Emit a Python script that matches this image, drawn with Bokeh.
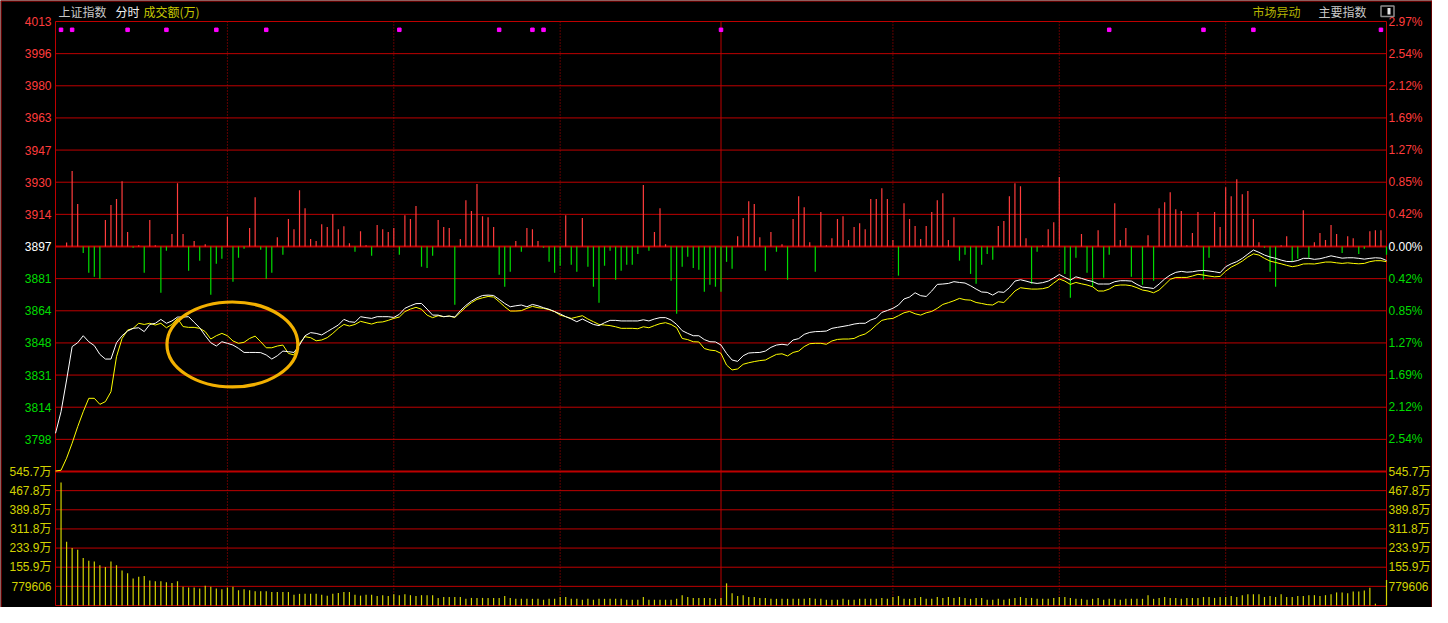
from bokeh.plotting import figure
from bokeh.models import Range1d, ColumnDataSource
from bokeh.core.properties import value, field
from bokeh.embed import file_html
from bokeh.resources import INLINE

# ---------------- data ----------------
PRE_CLOSE = 3897.2          # previous close (0.00% line)
STEP_PCT = 0.4243           # percent per grid step

price_labels = ["3798", "3814", "3831", "3848", "3864", "3881", "3897",
                "3914", "3930", "3947", "3963", "3980", "3996", "4013"]
pct_labels = ["2.54%", "2.12%", "1.69%", "1.27%", "0.85%", "0.42%", "0.00%",
              "0.42%", "0.85%", "1.27%", "1.69%", "2.12%", "2.54%", "2.97%"]
vol_labels = ["779606", "155.9万", "233.9万", "311.8万", "389.8万", "467.8万", "545.7万"]
VOL_STEP = 77.96            # 万 per volume grid step

# minute index 0..240 (9:30 .. 15:00)
price = [
    3801.1, 3812.2, 3828.5, 3845.7, 3847.7, 3851.3, 3848.2, 3846.2, 3841.7, 3839.3,
    3839.3, 3847.7, 3851.3, 3853.7, 3855.1, 3855.4, 3853.4, 3857.1, 3857.7, 3859.7,
    3857.7, 3858.9, 3860.9, 3860.9, 3861.1, 3858.2, 3855.4, 3851.3, 3847.7, 3846.0,
    3848.2, 3847.4, 3846.5, 3844.8, 3842.7, 3842.7, 3842.7, 3842.6, 3841.4, 3839.3,
    3841.0, 3843.4, 3843.1, 3842.7, 3846.5, 3851.3, 3852.9, 3852.5, 3851.7, 3853.4,
    3855.1, 3856.8, 3859.7, 3858.5, 3858.2, 3861.1, 3860.6, 3860.2, 3861.1, 3861.1,
    3861.1, 3860.7, 3862.3, 3865.4, 3866.7, 3867.8, 3867.9, 3865.0, 3861.9, 3861.9,
    3861.1, 3861.4, 3860.9, 3864.2, 3866.9, 3869.1, 3870.8, 3872.0, 3872.2, 3872.0,
    3870.0, 3867.9, 3866.2, 3866.7, 3867.1, 3866.2, 3867.4, 3866.7, 3865.7, 3864.9,
    3863.7, 3862.5, 3861.1, 3859.9, 3858.5, 3859.9, 3858.5, 3857.1, 3856.5, 3858.0,
    3859.2, 3859.2, 3858.9, 3858.9, 3858.9, 3858.9, 3859.5, 3858.9, 3859.9, 3860.6,
    3860.6, 3859.4, 3857.1, 3853.9, 3852.5, 3851.3, 3851.3, 3849.3, 3848.2, 3848.1,
    3846.5, 3842.2, 3838.8, 3838.1, 3841.0, 3842.4, 3842.6, 3842.7, 3843.4, 3845.3,
    3846.5, 3846.9, 3846.5, 3849.1, 3849.8, 3852.0, 3853.0, 3853.4, 3853.5, 3853.7,
    3855.1, 3855.6, 3856.1, 3856.6, 3857.3, 3857.7, 3857.7, 3859.4, 3860.4, 3863.3,
    3864.3, 3865.4, 3867.1, 3870.2, 3871.2, 3873.4, 3871.9, 3871.5, 3874.3, 3877.7,
    3877.9, 3878.2, 3879.1, 3878.7, 3878.4, 3877.0, 3875.3, 3873.8, 3873.6, 3872.2,
    3873.9, 3873.6, 3876.0, 3879.4, 3880.1, 3879.4, 3878.6, 3878.2, 3878.6, 3879.4,
    3881.0, 3882.8, 3881.3, 3879.9, 3881.6, 3880.8, 3879.9, 3879.2, 3877.9, 3877.9,
    3877.9, 3879.1, 3879.6, 3879.6, 3879.4, 3877.7, 3876.3, 3876.0, 3875.6, 3877.9,
    3880.5, 3882.5, 3883.9, 3884.4, 3884.0, 3884.2, 3884.7, 3884.9, 3884.6, 3884.2,
    3883.7, 3886.8, 3888.3, 3889.4, 3891.1, 3893.3, 3895.4, 3894.2, 3892.8, 3891.8,
    3891.1, 3890.2, 3889.5, 3889.4, 3890.0, 3891.1, 3891.1, 3890.6, 3890.9, 3891.6,
    3892.4, 3891.8, 3891.2, 3891.4, 3891.4, 3891.1, 3890.7, 3891.1, 3891.4, 3891.2,
    3890.0,
]

avg_line = [
    3781.7, 3782.1, 3788.3, 3796.0, 3804.5, 3812.2, 3819.1, 3819.1, 3816.0, 3817.4,
    3822.5, 3840.5, 3849.9, 3854.2, 3855.1, 3857.7, 3857.1, 3857.7, 3856.8, 3857.7,
    3855.4, 3857.1, 3860.2, 3856.0, 3855.6, 3855.6, 3855.1, 3853.4, 3849.6, 3851.3,
    3852.5, 3851.3, 3848.6, 3847.4, 3847.9, 3849.9, 3851.1, 3848.2, 3845.1, 3845.1,
    3846.0, 3846.5, 3842.2, 3841.4, 3847.4, 3850.8, 3850.3, 3848.7, 3849.1, 3850.3,
    3852.5, 3855.1, 3857.1, 3856.3, 3857.1, 3858.7, 3858.0, 3857.3, 3858.2, 3858.4,
    3859.2, 3860.2, 3860.9, 3863.7, 3865.0, 3865.9, 3864.9, 3861.9, 3860.6, 3861.6,
    3861.1, 3861.4, 3860.7, 3863.3, 3866.0, 3868.3, 3870.0, 3870.8, 3871.5, 3871.2,
    3868.8, 3866.2, 3864.0, 3864.0, 3864.2, 3865.4, 3866.4, 3865.7, 3865.4, 3864.7,
    3863.7, 3861.9, 3861.1, 3860.2, 3860.9, 3861.6, 3859.9, 3858.5, 3857.1, 3856.8,
    3856.5, 3855.9, 3855.1, 3855.1, 3855.1, 3854.9, 3855.9, 3855.4, 3856.5, 3857.5,
    3858.0, 3857.1, 3855.4, 3849.9, 3849.3, 3848.2, 3848.1, 3844.7, 3843.9, 3843.6,
    3842.2, 3836.2, 3833.7, 3834.2, 3836.6, 3837.4, 3838.0, 3838.5, 3838.8, 3840.3,
    3841.7, 3842.0, 3840.9, 3842.7, 3843.4, 3845.7, 3847.2, 3847.4, 3847.4, 3846.9,
    3848.6, 3849.4, 3849.6, 3849.6, 3849.9, 3851.3, 3852.2, 3854.2, 3856.8, 3859.2,
    3859.9, 3860.2, 3861.6, 3863.1, 3863.8, 3862.6, 3861.9, 3863.1, 3863.8, 3865.4,
    3867.4, 3868.3, 3869.3, 3870.5, 3869.8, 3869.6, 3868.4, 3867.9, 3867.3, 3867.1,
    3868.8, 3868.4, 3871.2, 3874.3, 3876.0, 3875.6, 3875.3, 3875.3, 3875.5, 3876.2,
    3878.4, 3880.5, 3879.4, 3877.7, 3878.7, 3878.0, 3877.4, 3876.5, 3874.3, 3874.3,
    3875.3, 3877.0, 3877.4, 3877.4, 3877.0, 3876.0, 3874.8, 3874.3, 3873.4, 3874.8,
    3877.5, 3880.3, 3881.3, 3881.3, 3881.3, 3882.0, 3882.9, 3882.5, 3882.0, 3881.6,
    3881.8, 3884.5, 3886.6, 3888.0, 3889.7, 3891.8, 3893.4, 3892.8, 3891.1, 3889.7,
    3889.0, 3888.3, 3887.5, 3886.8, 3887.3, 3888.2, 3888.3, 3888.2, 3888.7, 3889.2,
    3889.2, 3888.8, 3888.5, 3888.8, 3888.5, 3888.3, 3888.5, 3889.4, 3889.9, 3889.9,
    3889.4,
]

# minute index 1..240: red/green strength bars (index points around previous close)
strength = [
    0, 2.1, 38.8, 21.8, -3.3, -13.5, -15.6, -16.6, 13.6, 21.3,
    24.4, 33.6, 7.4, -0.7, 0.7, -13.5, 13.6, 0.7, -23.8, -2.2,
    6.4, 32.6, 6.4, -12.5, 2.8, -7.3, 1.2, -24.8, -8.9, -6.3,
    15.3, -18.1, -5.8, -1.2, 9.5, 25.4, -1.7, -16.6, -13.5, 4.8,
    -4.3, 14.1, 8.9, 29.0, 19.7, 3.8, 2.8, 11.5, 10.0, 16.7,
    8.9, 10.4, 1.7, -2.7, 7.9, 0.7, -4.8, 11.0, 8.9, 7.4,
    9.5, -4.3, 16.1, 14.1, 20.8, -10.4, -11.0, -4.8, 13.6, 10.0,
    9.5, -30.0, 3.8, 23.8, 18.2, 32.1, 15.6, 15.1, 10.0, -14.5,
    -20.7, -13.0, 2.8, -2.7, 9.5, 8.9, 2.8, -0.7, -7.9, -13.5,
    -9.9, 16.1, -9.4, -13.0, 14.6, -10.4, -20.7, -28.9, -9.9, -2.2,
    -17.1, -12.5, -9.4, -9.4, -3.8, 31.6, -2.2, 7.4, 19.7, 1.2,
    -17.6, -34.6, -10.4, -5.3, -11.0, -12.0, -23.3, -19.7, -20.7, -23.3,
    -7.9, -11.5, 5.3, 14.6, 23.3, 21.8, 4.8, -12.5, 7.4, -2.7,
    1.2, -17.1, 14.1, 25.9, 20.2, 2.2, -13.0, 17.7, 0.7, 4.3,
    14.1, 15.6, 3.3, 10.0, 12.0, 8.9, 24.4, 24.4, 30.0, 24.4,
    3.3, -15.0, 22.3, 14.1, 10.5, 3.8, 10.5, 17.7, 23.8, 27.4,
    3.3, 15.1, -7.3, -4.3, -14.1, -19.2, -9.4, -3.8, -6.8, 10.5,
    13.1, 25.9, 32.6, 31.0, 4.3, -19.2, -2.7, 0.7, 8.9, 12.5,
    35.7, -14.1, -26.4, -5.8, 6.4, -13.5, -20.7, 8.4, -16.1, -4.3,
    22.3, 3.3, 9.5, -15.6, 0, -19.7, 5.8, -17.6, 19.7, 22.8,
    27.9, 19.2, 18.2, 0.7, 6.9, 17.7, -17.1, -5.8, 17.7, 10.0,
    30.5, 25.9, 34.6, 26.9, 28.5, 14.1, 2.2, -0.7, -13.0, -20.7,
    0.7, 5.3, -7.9, -6.3, 18.7, -5.8, 2.2, 6.9, 3.3, 11.0,
    6.4, -3.3, 5.3, 4.3, -3.8, -1.2, 7.9, 8.4, 8.4, -4.3,
]

# minute index 1..240: turnover (万)
volume = [
    500.7, 259.5, 233.9, 226.6, 193.7, 182.7, 179.1, 164.4, 157.1, 179.1,
    164.4, 142.5, 131.6, 109.6, 116.9, 120.6, 102.3, 98.7, 98.7, 95.0,
    91.4, 98.7, 76.7, 73.1, 73.1, 69.4, 80.4, 76.7, 69.4, 65.8,
    73.1, 76.7, 62.1, 65.8, 62.1, 58.5, 58.5, 58.5, 54.8, 54.8,
    54.8, 54.8, 43.9, 47.5, 47.5, 47.5, 47.5, 43.9, 40.2, 47.5,
    51.2, 54.8, 54.8, 43.9, 40.2, 43.9, 43.9, 38.4, 42.1, 38.4,
    45.8, 42.1, 45.8, 42.1, 38.4, 42.1, 42.1, 42.1, 30.9, 34.6,
    34.6, 34.6, 34.6, 27.2, 30.9, 30.9, 30.9, 30.9, 30.9, 30.9,
    38.4, 30.9, 27.2, 27.2, 27.2, 27.2, 27.2, 23.5, 27.2, 27.2,
    34.6, 34.6, 27.2, 27.2, 23.5, 27.2, 23.5, 27.2, 27.2, 27.2,
    27.2, 27.2, 23.5, 23.5, 23.5, 34.6, 23.5, 23.5, 23.5, 23.5,
    23.5, 27.2, 42.1, 34.6, 30.9, 30.9, 30.9, 30.9, 27.2, 30.9,
    90.3, 49.5, 38.4, 42.1, 34.6, 34.6, 30.9, 30.9, 27.2, 27.2,
    27.2, 27.2, 27.2, 27.2, 27.2, 30.9, 27.2, 27.2, 23.5, 23.5,
    23.5, 27.2, 23.5, 23.5, 27.2, 27.2, 27.2, 27.2, 30.9, 27.2,
    34.6, 38.4, 27.2, 27.2, 30.9, 34.6, 27.2, 27.2, 34.6, 30.9,
    34.6, 30.9, 34.6, 30.9, 27.2, 30.9, 30.9, 23.5, 23.5, 27.2,
    23.5, 27.2, 30.9, 34.6, 30.9, 30.9, 27.2, 27.2, 27.2, 30.9,
    34.6, 34.6, 30.9, 27.2, 27.2, 23.5, 27.2, 30.9, 23.5, 27.2,
    27.2, 23.5, 27.2, 27.2, 27.2, 27.2, 42.1, 27.2, 30.9, 34.6,
    30.9, 30.9, 27.2, 30.9, 30.9, 30.9, 34.6, 34.6, 30.9, 34.6,
    34.6, 38.4, 34.6, 42.1, 45.8, 45.8, 45.8, 34.6, 38.4, 34.6,
    45.8, 34.6, 34.6, 38.4, 38.4, 42.1, 42.1, 38.4, 42.1, 45.8,
    53.2, 53.2, 49.5, 56.9, 56.9, 60.6, 71.8, 7.4, 0, 103.9,
]

# minutes with "market anomaly" markers
event_minutes = [1, 3, 13, 20, 29, 38, 62, 80, 86, 88, 120, 190, 207, 216, 239]
# half-hour separators (minute index); 120 = midday break
half_hour_lines = [31, 61, 91, 151, 181, 211]
midday_line = 120

# highlighted region (minute index / index level / extents)
CIRCLE_X, CIRCLE_Y, CIRCLE_W, CIRCLE_H = 31.9, 3846.8, 23.6, 43.7

# ---------------- layout / style ----------------
W, H = 1432, 607
FL, FR = 55, 1386          # plot frame left / right (px)
FT, PB, FB = 21, 471, 605  # frame top, price-pane bottom, frame bottom (px)

STEP = PRE_CLOSE * STEP_PCT / 100.0
PRICE_TOP = PRE_CLOSE + 7 * STEP
PRICE_BOT = PRE_CLOSE - 7 * STEP
VOL_TOP = 7 * VOL_STEP
PXM = (FR - FL) / 240.0
PX_PER_PT = (PB - FT) / (PRICE_TOP - PRICE_BOT)
VPX = (FB - PB) / VOL_TOP


def px2x(px):
    return (px - FL) / PXM


def py2y(py):
    return PRICE_TOP + (FT - py) / PX_PER_PT


FRAME_BOT = py2y(FB)

RED = "#FF3C3C"
GREEN = "#00DC00"
GRID = "#BE0000"
VOL_YEL = "#D2D200"
FONT = "Liberation Sans, Noto Sans CJK SC"

p = figure(width=W, height=H, output_backend="svg", toolbar_location=None,
           x_axis_location=None, y_axis_location=None,
           x_range=Range1d(px2x(0), px2x(W)), y_range=Range1d(py2y(H), py2y(0)),
           min_border=0, min_border_left=0, min_border_right=0,
           min_border_top=0, min_border_bottom=0,
           background_fill_color="black", border_fill_color="black",
           outline_line_color=None)
p.xgrid.visible = False
p.ygrid.visible = False
p.extra_y_ranges = {"vol": Range1d(-(H - FB) / VPX, FB / VPX)}

# ---- grid lines ----
levels = [PRE_CLOSE + k * STEP for k in range(-6, 8)]
lw = [2 if k == 0 else 1 for k in range(-6, 8)]
p.segment(x0=[0] * 14, x1=[240] * 14, y0=levels, y1=levels,
          line_color=GRID, line_width=lw)
vol_levels = [m * VOL_STEP for m in range(1, 8)]
p.segment(x0=[0] * 7, x1=[240] * 7, y0=vol_levels, y1=vol_levels,
          line_color=GRID, line_width=[1, 1, 1, 1, 1, 1, 2], y_range_name="vol")
# frame edges
p.segment(x0=[0, 240, 0], x1=[0, 240, 240], y0=[PRICE_TOP, PRICE_TOP, FRAME_BOT],
          y1=[FRAME_BOT, FRAME_BOT, FRAME_BOT], line_color=GRID, line_width=1)
# canvas border
p.segment(x0=[px2x(0.5), px2x(0), px2x(W - 0.5)], x1=[px2x(0.5), px2x(W), px2x(W - 0.5)],
          y0=[py2y(0), py2y(0.5), py2y(0)], y1=[py2y(H), py2y(0.5), py2y(H)],
          line_color=GRID, line_width=1)
# half-hour separators
n = len(half_hour_lines)
p.segment(x0=half_hour_lines, x1=half_hour_lines, y0=[PRICE_TOP] * n, y1=[FRAME_BOT] * n,
          line_color=GRID, line_width=1, line_dash="1 2")
p.segment(x0=[midday_line], x1=[midday_line], y0=[PRICE_TOP], y1=[FRAME_BOT],
          line_color=GRID, line_width=1)

# ---- strength bars ----
mins = list(range(1, 241))
sb = ColumnDataSource(dict(
    x=mins, y0=[PRE_CLOSE] * 240, y1=[PRE_CLOSE + v for v in strength],
    c=[RED if v >= 0 else GREEN for v in strength]))
p.segment(x0="x", y0="y0", x1="x", y1="y1", source=sb, line_color="c", line_width=1.2)

# ---- volume bars ----
vs = ColumnDataSource(dict(x=mins, v=volume, z=[0] * 240))
p.segment(x0="x", y0="z", x1="x", y1="v", source=vs, line_color=VOL_YEL,
          line_width=1.2, y_range_name="vol")

# ---- lines ----
t_all = list(range(0, 241))
p.line(t_all, avg_line, line_color="#FFFF00", line_width=1)
p.line(t_all, price, line_color="#FFFFFF", line_width=1)

# ---- event markers ----
MARK_Y = py2y(29.3)
p.scatter(event_minutes, [MARK_Y] * len(event_minutes), marker="square", size=3.5,
          fill_color="#FF00FF", line_color="#FF00FF")

# ---- highlight circle ----
p.ellipse(x=[CIRCLE_X], y=[CIRCLE_Y], width=CIRCLE_W, height=CIRCLE_H,
          fill_alpha=0, line_color="#F2B000", line_width=3.2)

# ---- axis labels ----
col = [GREEN] * 6 + ["#FFFFFF"] + [RED] * 7
XL = px2x(FL - 4)
XR = px2x(FR + 2)
p.text(x=[XL] * 14, y=levels, text=price_labels, text_color=col,
       text_align="right", text_baseline="middle",
       text_font=value(FONT), text_font_size=value("12px"))
p.text(x=[XR] * 14, y=levels, text=pct_labels, text_color=col,
       text_align="left", text_baseline="middle",
       text_font=value(FONT), text_font_size=value("12px"))
p.text(x=[XL] * 7, y=vol_levels, text=vol_labels, text_color=VOL_YEL,
       text_align="right", text_baseline="middle", y_range_name="vol",
       text_font=value(FONT), text_font_size=value("12px"))
p.text(x=[XR] * 7, y=vol_levels, text=vol_labels, text_color=VOL_YEL,
       text_align="left", text_baseline="middle", y_range_name="vol",
       text_font=value(FONT), text_font_size=value("12px"))

# ---- header ----
hdr_px = [58, 115, 143, 1252, 1318]
hdr_txt = ["上证指数", "分时", "成交额(万)", "市场异动", "主要指数"]
hdr_col = ["#C8C8C8", "#F0F0F0", "#C8C800", "#B4B400", "#C8C8C8"]
p.text(x=[px2x(v) for v in hdr_px], y=[py2y(11)] * 5, text=hdr_txt, text_color=hdr_col,
       text_align="left", text_baseline="middle",
       text_font=value("Noto Sans CJK SC"), text_font_size=value("12px"))

# ---- small toggle icon in the header ----
p.quad(left=[px2x(1380.5)], right=[px2x(1393.5)], top=[py2y(5.5)], bottom=[py2y(16)],
       fill_alpha=0, line_color="#8C8C8C", line_width=1.5)
p.quad(left=[px2x(1387)], right=[px2x(1390)], top=[py2y(7.5)], bottom=[py2y(14)],
       fill_color="#E6E6E6", line_alpha=0)

open("out.html", "w").write(file_html(p, INLINE))
